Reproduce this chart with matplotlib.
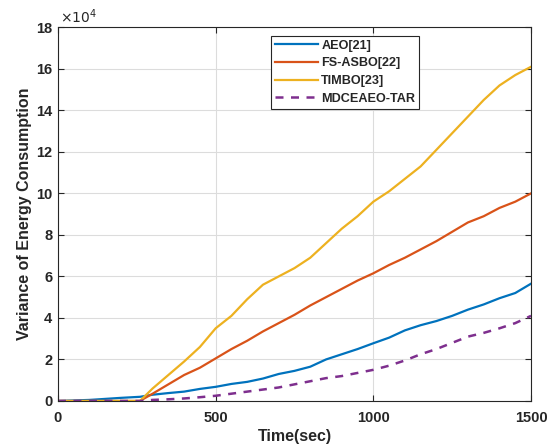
import matplotlib.pyplot as plt

plt.rcParams['font.family'] = ['Liberation Sans', 'DejaVu Sans']

# time axis (sec) and variance values in units of 1e4
time = [0, 100, 200, 260, 300, 350, 400, 450, 500, 550, 600, 650, 700, 750,
        800, 850, 900, 950, 1000, 1050, 1100, 1150, 1200, 1250, 1300, 1350,
        1400, 1450, 1500]
aeo = [0.0, 0.05, 0.15, 0.2, 0.3, 0.38, 0.45, 0.58, 0.68, 0.82, 0.92, 1.08,
       1.3, 1.45, 1.65, 2.0, 2.25, 2.5, 2.78, 3.05, 3.4, 3.65, 3.85, 4.1,
       4.4, 4.65, 4.95, 5.2, 5.65]
fs_asbo = [0.0, 0.0, 0.0, 0.0, 0.35, 0.8, 1.25, 1.6, 2.05, 2.5, 2.9, 3.35,
           3.75, 4.15, 4.6, 5.0, 5.4, 5.8, 6.15, 6.55, 6.9, 7.3, 7.7, 8.15,
           8.6, 8.9, 9.3, 9.6, 10.0]
timbo = [0.0, 0.0, 0.0, 0.0, 0.6, 1.25, 1.9, 2.6, 3.5, 4.1, 4.9, 5.6, 6.0,
         6.4, 6.9, 7.6, 8.3, 8.9, 9.6, 10.1, 10.7, 11.3, 12.1, 12.9, 13.7,
         14.5, 15.2, 15.7, 16.1]
mdceaeo = [0.0, 0.0, 0.0, 0.0, 0.05, 0.08, 0.12, 0.18, 0.25, 0.35, 0.45,
           0.55, 0.65, 0.8, 0.95, 1.1, 1.2, 1.35, 1.5, 1.7, 1.95, 2.25,
           2.5, 2.8, 3.1, 3.28, 3.5, 3.75, 4.1]

scale = 1e4
ink = '#262626'

fig = plt.figure(figsize=(5.52, 4.48), dpi=100)
ax = fig.add_axes([0.105, 0.105, 0.857, 0.834])

ax.plot(time, [v * scale for v in aeo], color='#0072BD', lw=1.6, label='AEO[21]')
ax.plot(time, [v * scale for v in fs_asbo], color='#D95319', lw=1.6, label='FS-ASBO[22]')
ax.plot(time, [v * scale for v in timbo], color='#EDB120', lw=1.6, label='TIMBO[23]')
ax.plot(time, [v * scale for v in mdceaeo], color='#7E2F8E', lw=1.8, ls=(0, (3.2, 3)),
        label='MDCEAEO-TAR')

ax.set_xlim(0, 1500)
ax.set_ylim(0, 18e4)
ax.set_xticks([0, 500, 1000, 1500])
ax.set_yticks([i * 2e4 for i in range(10)])
ax.set_yticklabels([str(i * 2) for i in range(10)])
ax.text(0.005, 1.004, r'$\times 10^4$', transform=ax.transAxes, fontsize=10,
        va='bottom', ha='left', color=ink)

ax.grid(True, color='#dcdcdc', lw=0.8)
ax.tick_params(direction='in', length=4, top=True, right=True, labelsize=10.5,
               colors=ink)
ax.tick_params(axis='x', pad=7)
ax.tick_params(axis='y', pad=4)
for lab in ax.get_xticklabels() + ax.get_yticklabels():
    lab.set_fontweight('bold')
for s in ax.spines.values():
    s.set_color(ink)
    s.set_linewidth(0.8)

ax.set_xlabel('Time(sec)', fontsize=11.5, fontweight='bold', labelpad=3, color=ink)
ax.set_ylabel('Variance of Energy Consumption', fontsize=11.5, fontweight='bold',
              labelpad=3, color=ink)

leg = ax.legend(loc='upper left', bbox_to_anchor=(0.451, 0.977),
                prop={'weight': 'bold', 'size': 9.1}, handlelength=3.4,
                fancybox=False, edgecolor=ink, framealpha=1,
                borderpad=0.3, labelspacing=0.45, handletextpad=0.25,
                borderaxespad=0)
leg.get_frame().set_linewidth(0.8)
for t in leg.get_texts():
    t.set_color(ink)

fig.savefig('out.png', dpi=100)
